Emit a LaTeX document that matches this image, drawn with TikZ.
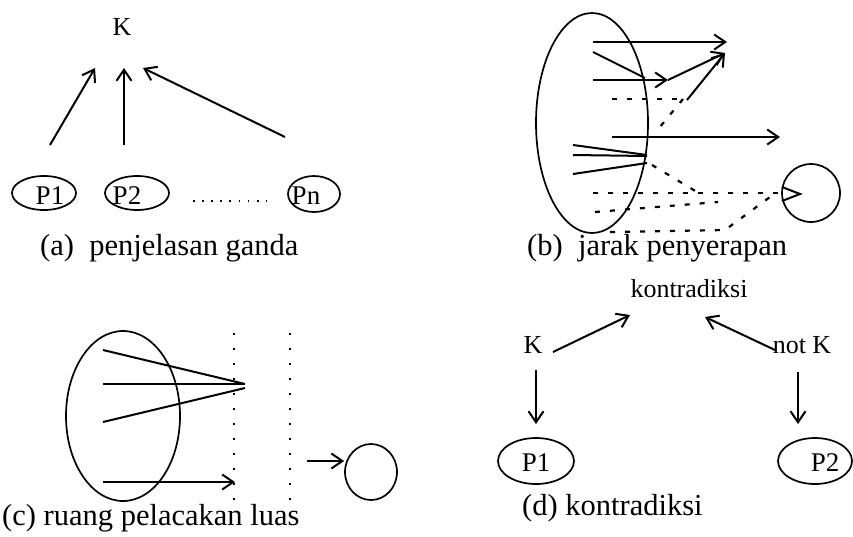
\documentclass[tikz,border=0pt]{standalone}
\usepackage{fontspec}
\setmainfont{Liberation Serif}
\usetikzlibrary{arrows.meta,shapes.geometric}
\begin{document}
\begin{tikzpicture}[x=1pt,y=-1pt,
  ln/.style={line width=2pt},
  arr/.style={line width=2pt,-{Straight Barb[length=11pt,width=15pt]}},
  oval/.style={draw,ellipse,line width=1.7pt,inner sep=0pt},
  lbl/.style={font=\fontsize{26}{30}\selectfont,inner sep=0pt,anchor=base},
  plbl/.style={font=\fontsize{27}{30}\selectfont,inner sep=0pt,anchor=base},
  captxt/.style={font=\fontsize{30.5}{36}\selectfont,inner sep=0pt,anchor=base west},
  dsh/.style={line width=2.2pt,dash pattern=on 5pt off 10pt},
  dts/.style={line width=2.6pt,dash pattern=on 2.4pt off 12.6pt}]
\useasboundingbox (0,0) rectangle (853,536);
% ---------- (a)
\node[lbl] (aK) at (122,35) {K};
\node[oval,minimum width=64pt,minimum height=34pt] (aP1) at (44,193) {};
\node[plbl] (aP1t) at (50,204) {P1};
\node[oval,minimum width=64pt,minimum height=34pt] (aP2) at (137,193) {};
\node[plbl] (aP2t) at (127,204) {P2};
\node[oval,minimum width=52pt,minimum height=36pt] (aPn) at (314,194) {};
\node[plbl] (aPnt) at (306,204) {Pn};
\coordinate (a1s) at (50,145); \coordinate (a1e) at (95,68);
\coordinate (a2s) at (124,145); \coordinate (a2e) at (124,68);
\coordinate (a3s) at (285,137); \coordinate (a3e) at (143,68);
\draw[arr] (a1s) -- (a1e);
\draw[arr] (a2s) -- (a2e);
\draw[arr] (a3s) -- (a3e);
\coordinate (ad1) at (193,201); \coordinate (ad2) at (266,201);
\draw[line width=1.8pt,dash pattern=on 1.8pt off 7.3pt] (ad1) -- (ad2);
\node[captxt] (acap) at (40,255) {(a)\ \ penjelasan ganda};
% ---------- (b)
\node[oval,minimum width=112pt,minimum height=220pt] (bE) at (592,123) {};
\node[draw,circle,line width=1.7pt,minimum size=58pt,inner sep=0pt] (bC) at (811,193) {};
\coordinate (b1) at (593,42); \coordinate (b2) at (727,42);
\draw[arr] (b1) -- (b2);
\coordinate (b3) at (593,52); \coordinate (b4) at (645,78);
\draw[ln] (b3) -- (b4);
\coordinate (b5) at (593,80); \coordinate (b6) at (668,80);
\draw[arr] (b5) -- (b6);
\coordinate (b7) at (725,53); \coordinate (b8) at (687,100);
\draw[arr] (b6) -- (b7);
\draw[arr] (b8) -- (b7);
\coordinate (b9) at (612,99); \coordinate (b10) at (683,99); \coordinate (b11) at (655,133);
\draw[dsh] (b9) -- (b10);
\draw[dsh] (b10) -- (b11);
\coordinate (b12) at (612,137); \coordinate (b13) at (780,137);
\draw[arr] (b12) -- (b13);
\coordinate (c1) at (573,145); \coordinate (c2) at (573,155); \coordinate (c3) at (573,174);
\coordinate (d1) at (647,155); \coordinate (d2) at (647,156); \coordinate (d3) at (647,163);
\draw[ln] (c1) -- (d1); \draw[ln] (c2) -- (d2); \draw[ln] (c3) -- (d3);
\coordinate (e1) at (652,165); \coordinate (e2) at (697,192);
\draw[dsh] (e1) -- (e2);
\coordinate (f1) at (593,193); \coordinate (f2) at (782,193);
\draw[dsh] (f1) -- (f2);
\coordinate (f3) at (782,187); \coordinate (f4) at (800,194); \coordinate (f5) at (782,201);
\draw[ln,line join=miter] (f3) -- (f4) -- (f5);
\coordinate (g1) at (595,212); \coordinate (g2) at (718,202);
\draw[dsh] (g1) -- (g2);
\coordinate (h1) at (610,232); \coordinate (h2) at (725,230); \coordinate (h3) at (770,197);
\draw[dsh] (h1) -- (h2) -- (h3);
\node[captxt] (bcap) at (527,255) {(b)\ \ jarak penyerapan};
% ---------- (c)
\node[oval,minimum width=114pt,minimum height=170pt] (cE) at (123,416) {};
\coordinate (k1) at (103,350); \coordinate (k2) at (103,384); \coordinate (k3) at (103,422);
\coordinate (m1) at (245,384); \coordinate (m2) at (245,388);
\draw[ln] (k1) -- (m1); \draw[ln] (k2) -- (m1); \draw[ln] (k3) -- (m2);
\coordinate (k4) at (103,482); \coordinate (m4) at (235,482);
\draw[arr] (k4) -- (m4);
\coordinate (v1) at (234,333); \coordinate (v2) at (234,503);
\coordinate (v3) at (290,333); \coordinate (v4) at (290,503);
\draw[dts] (v1) -- (v2);
\draw[dts] (v3) -- (v4);
\node[draw,ellipse,line width=1.7pt,minimum width=52pt,minimum height=56pt,inner sep=0pt] (cC) at (371,472) {};
\coordinate (n1) at (307,461);
\draw[arr] (n1) -- (cC.west |- n1);
\node[captxt] (ccap) at (2,525) {(c) ruang pelacakan luas};
% ---------- (d)
\node[lbl] (dKon) at (689,297) {kontradiksi};
\node[lbl] (dK) at (533,353) {K};
\node[lbl] (dNK) at (802,353) {not K};
\coordinate (p1) at (553,352); \coordinate (p2) at (630,315);
\coordinate (p3) at (775,350); \coordinate (p4) at (705,317);
\draw[arr] (p1) -- (p2);
\draw[arr] (p3) -- (p4);
\node[oval,minimum width=76pt,minimum height=46pt] (dP1) at (536,461) {};
\node[plbl] (dP1t) at (536,471) {P1};
\node[oval,minimum width=74pt,minimum height=46pt] (dP2) at (815,461) {};
\node[plbl] (dP2t) at (825,471) {P2};
\coordinate (q1) at (536,370); \coordinate (q2) at (798,372);
\coordinate (q3) at (536,424); \coordinate (q4) at (798,424);
\draw[arr] (q1) -- (q3);
\draw[arr] (q2) -- (q4);
\node[captxt] (dcap) at (522,515) {(d) kontradiksi};
\end{tikzpicture}
\end{document}
